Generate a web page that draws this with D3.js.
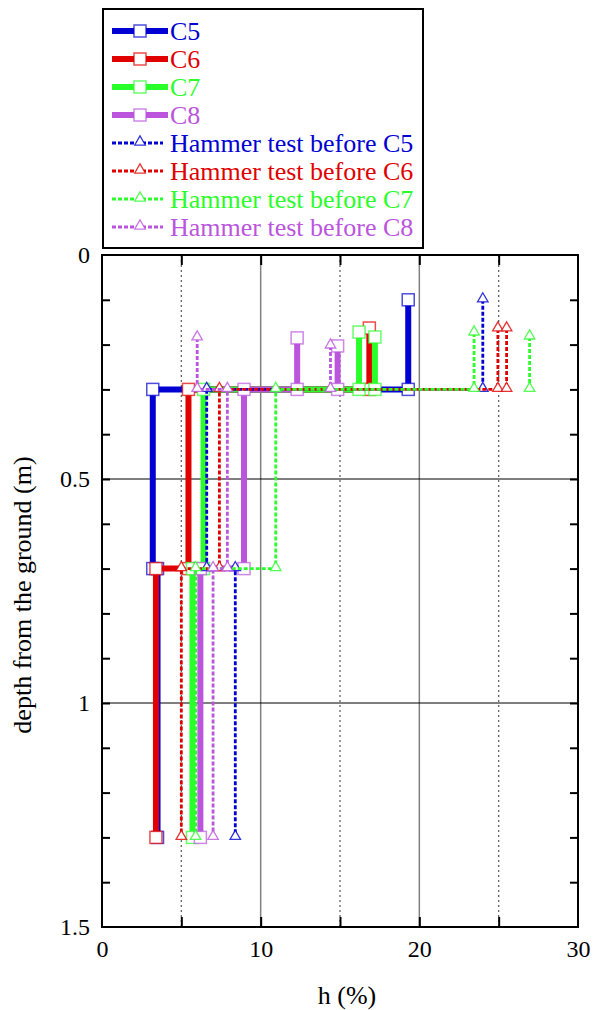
<!DOCTYPE html>
<html>
<head>
<meta charset="utf-8">
<script src="https://cdn.jsdelivr.net/npm/d3@7"></script>
</head>
<body style="margin:0; background:#fff">
<svg id="chart" width="593" height="1010" font-family="Liberation Serif"></svg>
<script>
// values: [h (%), depth (m)]
// each series is a main step path plus (sometimes) a second short surface branch
var c5 = [[19.3, 0.1], [19.3, 0.3], [3.2, 0.3], [3.2, 0.7], [3.5, 0.7], [3.5, 1.3]];
var c6 = [[16.85, 0.163], [16.85, 0.3], [5.45, 0.3], [5.45, 0.7], [3.4, 0.7], [3.4, 1.3]];
var c7 = [[16.2, 0.172], [16.2, 0.3], [6.4, 0.3], [6.4, 0.7], [5.7, 0.7], [5.7, 1.3]];
var c7_b = [[17.2, 0.183], [17.2, 0.3]];
var c8 = [[12.3, 0.185], [12.3, 0.3], [8.95, 0.3], [8.95, 0.7], [6.2, 0.7], [6.2, 1.3]];
var c8_b = [[14.85, 0.203], [14.85, 0.3]];

var h5 = [[24.0, 0.1], [24.0, 0.3], [6.6, 0.3], [6.6, 0.7], [8.4, 0.7], [8.4, 1.3]];
var h6 = [[24.95, 0.165], [24.95, 0.3], [7.4, 0.3], [7.4, 0.7], [5.0, 0.7], [5.0, 1.3]];
var h6_b = [[25.5, 0.165], [25.5, 0.3]];
var h7 = [[23.45, 0.174], [23.45, 0.3], [10.95, 0.3], [10.95, 0.7], [5.9, 0.7], [5.9, 1.3]];
var h7_b = [[26.95, 0.183], [26.95, 0.3]];
var h8 = [[6.0, 0.185], [6.0, 0.3], [7.9, 0.3], [7.9, 0.7], [7.0, 0.7], [7.0, 1.3]];
var h8_b = [[14.4, 0.203], [14.4, 0.3]];

var series_names = ["C5", "C6", "C7", "C8",
    "Hammer test before C5", "Hammer test before C6", "Hammer test before C7", "Hammer test before C8"];
var series_colors = ["#0000d2", "#e00000", "#2bff2b", "#bb55dd", "#0000d2", "#e00000", "#2bff2b", "#bb55dd"];
var series_paths = [[c5], [c6], [c7, c7_b], [c8, c8_b], [h5], [h6, h6_b], [h7, h7_b], [h8, h8_b]];

var x_tick_labels = [0, 10, 20, 30];
var x_minor_ticks = [5, 10, 15, 20, 25];
var y_tick_labels = [0, 0.5, 1, 1.5];
var y_minor_ticks = [0.1, 0.2, 0.3, 0.4, 0.5, 0.6, 0.7, 0.8, 0.9, 1.0, 1.1, 1.2, 1.3, 1.4];

var FONT = "Liberation Serif";

chart();

function chart() {
    var svg = d3.select("#chart"),
        margin = {top: 255, left: 102, bottom: 83, right: 15},
        width = +svg.attr("width") - margin.right,
        height = +svg.attr("height") - margin.bottom;

    var x = d3.scaleLinear().domain([0, 30]).range([margin.left, width]);
    // depth grows downwards
    var y = d3.scaleLinear().domain([0, 1.5]).range([margin.top, height]);

    // grid lines: solid at 10/20, dotted at 5/15/25, black at 0.5 and 1
    svg.append("g").selectAll("line").data([10, 20]).join("line")
        .attr("x1", d => x(d)).attr("x2", d => x(d))
        .attr("y1", y(0)).attr("y2", y(1.5))
        .attr("stroke", "#808080").attr("stroke-width", 1.5);
    svg.append("g").selectAll("line").data([5, 15, 25]).join("line")
        .attr("x1", d => x(d)).attr("x2", d => x(d))
        .attr("y1", y(0)).attr("y2", y(1.5))
        .attr("stroke", "#666").attr("stroke-width", 1.3).attr("stroke-dasharray", "2,3");
    svg.append("g").selectAll("line").data([0.5, 1]).join("line")
        .attr("x1", x(0)).attr("x2", x(30))
        .attr("y1", d => y(d)).attr("y2", d => y(d))
        .attr("stroke", "#000").attr("stroke-width", 1);

    // inward ticks on all four sides (no labels)
    var tick_axes = [
        svg.append("g").attr("transform", `translate(0,${y(1.5)})`)
            .call(d3.axisBottom(x).tickValues(x_minor_ticks).tickSize(-10).tickFormat("")),
        svg.append("g").attr("transform", `translate(0,${y(0)})`)
            .call(d3.axisTop(x).tickValues(x_minor_ticks).tickSize(-10).tickFormat("")),
        svg.append("g").attr("transform", `translate(${x(0)},0)`)
            .call(d3.axisLeft(y).tickValues(y_minor_ticks).tickSize(-8).tickFormat("")),
        svg.append("g").attr("transform", `translate(${x(30)},0)`)
            .call(d3.axisRight(y).tickValues(y_minor_ticks).tickSize(-8).tickFormat(""))
    ];
    tick_axes.forEach(function(g) {
        g.select(".domain").remove();
        g.selectAll("text").remove();
        g.attr("font-family", FONT).attr("font-size", null);
        g.selectAll("line").attr("stroke", "#000").attr("stroke-width", 2);
    });

    // tick labels
    var xAxis = svg.append("g").attr("transform", `translate(0,${y(1.5)})`)
        .call(d3.axisBottom(x).tickValues(x_tick_labels).tickSize(0).tickPadding(13));
    var yAxis = svg.append("g").attr("transform", `translate(${x(0)},0)`)
        .call(d3.axisLeft(y).tickValues(y_tick_labels).tickSize(0).tickPadding(12).tickFormat(d3.format("")));
    [xAxis, yAxis].forEach(function(g) {
        g.select(".domain").remove();
        g.attr("font-family", FONT).attr("font-size", 24);
        g.selectAll("text").attr("fill", "#000")
            .attr("font-family", FONT).attr("font-size", 24);
    });

    // frame
    svg.append("rect")
        .attr("x", x(0)).attr("y", y(0))
        .attr("width", x(30) - x(0)).attr("height", y(1.5) - y(0))
        .attr("fill", "none").attr("stroke", "#000").attr("stroke-width", 2);

    // axis titles
    svg.append("text").attr("x", 347).attr("y", 1004)
        .attr("text-anchor", "middle")
        .attr("font-family", FONT).attr("font-size", 26).text("h (%)");
    svg.append("text").attr("transform", "translate(31,595) rotate(-90)")
        .attr("text-anchor", "middle")
        .attr("font-family", FONT).attr("font-size", 26).text("depth from the ground (m)");

    var line = d3.line().x(d => x(d[0])).y(d => y(d[1]));
    var tri = d3.symbol().type(d3.symbolTriangle).size(48);

    // the data: thick solid lines + squares for C*, dotted + triangles for hammer tests
    series_names.forEach(function(name, i) {
        var col = series_colors[i];
        var hammer = i >= 4;
        var g = svg.append("g");
        series_paths[i].forEach(function(pts) {
            g.append("path").attr("d", line(pts))
                .attr("fill", "none").attr("stroke", col)
                .attr("stroke-width", hammer ? 2.8 : 6)
                .attr("stroke-dasharray", hammer ? "4,2" : null);
        });
        var all_pts = [].concat.apply([], series_paths[i]);
        if (hammer) {
            g.selectAll("path.mk").data(all_pts).join("path").attr("class", "mk")
                .attr("d", tri)
                .attr("transform", d => `translate(${x(d[0])},${y(d[1]) - 1})`)
                .attr("fill", "#fff").attr("stroke", col).attr("stroke-opacity", 0.8).attr("stroke-width", 1.3);
        } else {
            g.selectAll("rect").data(all_pts).join("rect")
                .attr("x", d => x(d[0]) - 6).attr("y", d => y(d[1]) - 6)
                .attr("width", 12).attr("height", 12)
                .attr("fill", "#fff").attr("stroke", col).attr("stroke-opacity", 0.7).attr("stroke-width", 1.5);
        }
    });

    // legend box
    var legend = svg.append("g");
    legend.append("rect").attr("x", 103).attr("y", 9).attr("width", 320).attr("height", 239)
        .attr("fill", "#fff").attr("stroke", "#000").attr("stroke-width", 2);
    series_names.forEach(function(name, i) {
        var cy = 31 + i * 28;
        var col = series_colors[i];
        var hammer = i >= 4;
        legend.append("line").attr("x1", 112).attr("x2", hammer ? 163 : 168)
            .attr("y1", cy).attr("y2", cy)
            .attr("stroke", col).attr("stroke-width", hammer ? 2.8 : 6)
            .attr("stroke-dasharray", hammer ? "4,2" : null);
        if (hammer) {
            legend.append("path").attr("d", tri).attr("transform", `translate(140,${cy - 1})`)
                .attr("fill", "#fff").attr("stroke", col).attr("stroke-opacity", 0.8).attr("stroke-width", 1.3);
        } else {
            legend.append("rect").attr("x", 134).attr("y", cy - 6).attr("width", 12).attr("height", 12)
                .attr("fill", "#fff").attr("stroke", col).attr("stroke-opacity", 0.7).attr("stroke-width", 1.5);
        }
        legend.append("text").attr("x", 170).attr("y", cy + 9)
            .attr("fill", col).attr("font-family", FONT).attr("font-size", 26).text(name);
    });
}
</script>
</body>
</html>
